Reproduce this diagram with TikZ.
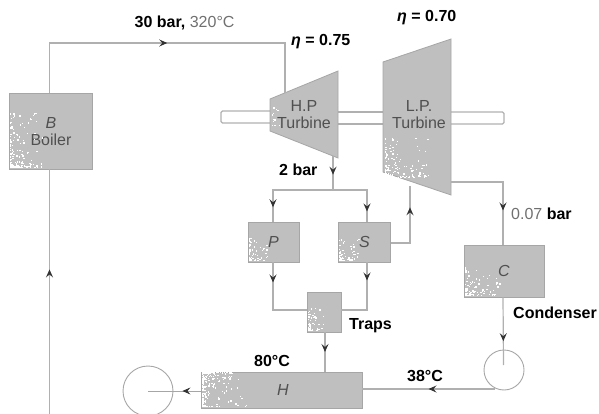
\documentclass[tikz,border=0pt]{standalone}
\usepackage{fontspec}
\setmainfont{Liberation Sans}
\usetikzlibrary{arrows.meta,decorations.markings,calc}
\definecolor{blockfill}{HTML}{BFBFBF}
\definecolor{wire}{HTML}{B0B0B0}
\definecolor{edgeline}{HTML}{A6A6A6}
\definecolor{inktext}{HTML}{505050}
\definecolor{softtext}{HTML}{707070}
\newcommand{\speckle}[5]{%
  \foreach \i in {1,...,#5}{%
    \pgfmathsetmacro{\ua}{rnd}\pgfmathsetmacro{\ub}{rnd}%
    \pgfmathsetmacro{\sx}{#1+#3*\ua*\ua*\ua}\pgfmathsetmacro{\sy}{#2-#4*\ub*\ub*\ub}%
    \fill[white] (\sx,\sy) rectangle ++(1.3,-1.3);}}
\tikzset{
  x=1pt,y=-1pt,
  block/.style={draw=edgeline,fill=blockfill,line width=0.8pt,inner sep=0pt,minimum width=#1,text=inktext,font=\fontsize{16}{17}\selectfont},
  wireline/.style={draw=wire,line width=1.2pt},
  flowtip/.style={postaction={decorate,decoration={markings,mark=at position #1 with {\arrow[black!80]{Stealth[length=8pt,width=7pt,inset=3pt]}}}}},
  lbl/.style={font=\fontsize{16}{17}\selectfont\bfseries,text=black,inner sep=0pt},
  inner/.style={font=\fontsize{16}{17}\selectfont,text=inktext,inner sep=0pt,align=center},
  pumpc/.style={circle,draw=edgeline,line width=0.9pt,inner sep=0pt},
}
\begin{document}
\begin{tikzpicture}
\useasboundingbox (0,0) rectangle (599,414);
\pgfmathsetseed{4217}
% corners
\coordinate (hpTL) at (270,99); \coordinate (hpTR) at (338,71);
\coordinate (hpBR) at (338,158); \coordinate (hpBL) at (270,131);
\coordinate (lpTL) at (383,62); \coordinate (lpTR) at (451,39);
\coordinate (lpBR) at (451,195); \coordinate (lpBL) at (383,172);
% shaft
\coordinate (shL1) at (221,111); \coordinate (shL2) at (221,123);
\coordinate (shR1) at (504,112); \coordinate (shR2) at (504,124);
\draw[wireline,rounded corners=1.5pt] (270,111) -- (shL1) -- (shL2) -- (270,123);
\draw[wireline] (338,112) -- (383,112);
\draw[wireline] (338,124) -- (383,124);
\draw[wireline,rounded corners=1.5pt] (451,112) -- (shR1) -- (shR2) -- (451,124);
% turbines
\fill[blockfill,draw=edgeline,line width=0.8pt] (hpTL) -- (hpTR) -- (hpBR) -- (hpBL) -- cycle;
\fill[blockfill,draw=edgeline,line width=0.8pt] (lpTL) -- (lpTR) -- (lpBR) -- (lpBL) -- cycle;
\node[inner] (hplabel) at (304,115) {H.P\\Turbine};
\node[inner] (lplabel) at (419,115) {L.P.\\Turbine};
\speckle{385}{178}{44}{40}{150}
\speckle{272}{126}{8}{18}{12}
% blocks
\node[block=83pt,minimum height=76pt] (boiler) at (50.5,131) {};
\node[inner] (boilerlabel) at (51,132) {\textit{B}\\Boiler};
\speckle{10}{168}{32}{54}{170}
\node[block=51pt,minimum height=40pt] (P) at (273.5,242) {\textit{P}};
\speckle{249}{261}{18}{26}{70}
\node[block=52pt,minimum height=40pt] (S) at (364.5,242) {\textit{S}};
\speckle{339}{261}{20}{22}{70}
\node[block=34pt,minimum height=40pt] (T) at (324,312) {};
\speckle{308}{331}{16}{22}{60}
\node[block=80pt,minimum height=52pt] (C) at (504,271) {\textit{C}};
\speckle{465}{296}{36}{30}{100}
\node[block=161pt,minimum height=36pt] (H) at (281.5,390) {};
\speckle{202}{407}{48}{35}{40}
\speckle{202}{373}{30}{-34}{200}
\node[inner] (hlabel) at (283,390) {\textit{H}};
% pumps
\node[pumpc,minimum size=40pt] (pumpR) at (504,370) {};
\node[pumpc,minimum size=50pt] (pumpL) at (148,391) {};
\coordinate (pumpRin) at (503.5,365);
\coordinate (pumpLc) at (148,391);
% connectors
\coordinate (feedB) at (49.5,414);
\draw[wireline,line width=1.4pt,flowtip=0.59] (feedB) -- (49.5,169);
\coordinate (hpin) at (285,93);
\draw[wireline,flowtip=0.5] (49.5,93) -- (49.5,43) -- (285,43) -- (hpin);
\coordinate (hpout) at (333,156);
\coordinate (split) at (333,190);
\draw[wireline,flowtip=0.55] (hpout) -- (split);
\draw[wireline,flowtip=0.84] (split) -- (273,190) -- (273,222);
\draw[wireline,flowtip=0.84] (split) -- (367,190) -- (367,222);
\coordinate (lpin) at (410,186);
\draw[wireline,flowtip=0.72] (S.east |- 0,243) -- (410,243) -- (lpin);
\coordinate (lpout) at (451,182);
\draw[wireline,flowtip=0.7] (lpout) -- (503,182) -- (503,245);
\draw[wireline,flowtip=0.25] (273,262) -- (273,310) -- (307,310);
\draw[wireline,flowtip=0.25] (367,262) -- (367,310) -- (341,310);
\draw[wireline,flowtip=0.5] (325,332) -- (325,372);
\draw[wireline,flowtip=0.65] (503,297) -- (pumpRin);
\draw[wireline,flowtip=0.5] (495,389) -- (362,389);
\draw[draw=edgeline,line width=0.7pt,flowtip=0.35] (201,391) -- (pumpLc);
% labels
\node[lbl,anchor=west] (l30) at (134.5,23) {30 bar, \textcolor{softtext}{\mdseries 320°C}};
\node[lbl,anchor=west] (l75) at (291,42) {\textit{η} = 0.75};
\node[lbl,anchor=west] (l70) at (397,18) {\textit{η} = 0.70};
\node[lbl,anchor=west] (l2) at (279,170) {2 bar};
\node[lbl,anchor=west] (l07) at (511,214) {\textcolor{softtext}{\mdseries 0.07} bar};
\node[lbl,anchor=west] (lcond) at (513,313) {Condenser};
\node[lbl,anchor=west] (ltraps) at (349,326) {Traps};
\node[lbl,anchor=west] (l80) at (254,361) {80°C};
\node[lbl,anchor=west] (l38) at (407,376) {38°C};
\end{tikzpicture}
\end{document}
